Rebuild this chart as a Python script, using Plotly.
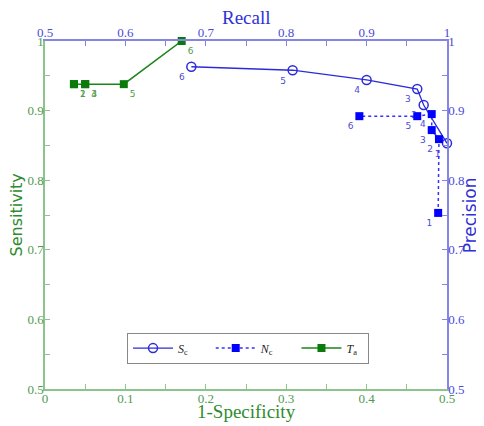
import plotly.graph_objects as go

# Sc series (Recall, Precision) - top/right axes
sc_recall = [1.0, 0.971, 0.963, 0.900, 0.808, 0.682]
sc_precision = [0.853, 0.908, 0.931, 0.944, 0.958, 0.963]
sc_labels = ["1", "2", "3", "4", "5", "6"]

# Nc series (Recall, Precision) - top/right axes
nc_recall = [0.989, 0.990, 0.981, 0.981, 0.963, 0.891]
nc_precision = [0.753, 0.859, 0.872, 0.895, 0.892, 0.892]
nc_labels = ["1", "2", "3", "4", "5", "6"]

# Ta series (1-Specificity, Sensitivity) - bottom/left axes
ta_fpr = [0.036, 0.036, 0.050, 0.050, 0.098, 0.170]
ta_sens = [0.938, 0.938, 0.938, 0.938, 0.938, 1.0]
ta_labels = ["1", "2", "3", "4", "5", "6"]

bottom_ticks = [0, 0.1, 0.2, 0.3, 0.4, 0.5]
bottom_text = ["0", "0.1", "0.2", "0.3", "0.4", "0.5"]
top_ticks = [0.5, 0.6, 0.7, 0.8, 0.9, 1.0]
top_text = ["0.5", "0.6", "0.7", "0.8", "0.9", "1"]
y_ticks = [0.5, 0.6, 0.7, 0.8, 0.9, 1.0]
y_text = ["0.5", "0.6", "0.7", "0.8", "0.9", "1"]

GREEN = "#1a851a"
GREEN_AX = "#8cc48c"
GREEN_TXT = "#4f9a4f"
BLUE = "#2b2bdc"
BLUE_AX = "#8585e6"
BLUE_TXT = "#4a4ad8"
SERIF = "Liberation Serif"
SANS = "DejaVu Sans"
SP = "&nbsp;" * 6

fig = go.Figure()

fig.add_trace(go.Scatter(
    x=sc_recall, y=sc_precision, text=sc_labels, xaxis="x2", yaxis="y2",
    mode="lines+markers+text", name="<i>S</i><sub>c</sub>" + SP,
    line=dict(color=BLUE, width=1.3),
    marker=dict(symbol="circle-open", size=9, color=BLUE, line=dict(width=1.5)),
    textposition="bottom left", textfont=dict(size=9, color=BLUE_TXT, family=SANS),
    cliponaxis=False,
))
fig.add_trace(go.Scatter(
    x=nc_recall, y=nc_precision, text=nc_labels, xaxis="x2", yaxis="y2",
    mode="lines+markers+text", name="<i>N</i><sub>c</sub>" + SP,
    line=dict(color="#3333ff", width=1.5, dash="dot"),
    marker=dict(symbol="square", size=8, color="#0000ff"),
    textposition="bottom left", textfont=dict(size=9, color=BLUE_TXT, family=SANS),
    cliponaxis=False,
))
fig.add_trace(go.Scatter(
    x=ta_fpr, y=ta_sens, text=ta_labels, xaxis="x", yaxis="y",
    mode="lines+markers+text", name="<i>T</i><sub>a</sub>" + "&nbsp;" * 2,
    line=dict(color=GREEN, width=1.5),
    marker=dict(symbol="square", size=8, color="#0a7a0a"),
    textposition="bottom right", textfont=dict(size=9, color=GREEN_TXT, family=SANS),
    cliponaxis=False,
))

common = dict(showgrid=False, zeroline=False, showline=True, linewidth=1.5,
              ticks="inside", ticklen=5, automargin=False, ticklabelstandoff=-3)

fig.update_layout(
    width=476, height=418,
    margin=dict(l=37, r=37, t=33, b=37, autoexpand=False),
    paper_bgcolor="white", plot_bgcolor="white",
    showlegend=True,
    legend=dict(
        orientation="h", x=0.505, xanchor="center", y=0.162, yanchor="top",
        bordercolor="#888888", borderwidth=1, bgcolor="white",
        font=dict(family=SERIF, size=12, color="#222222"),
        itemwidth=40, tracegroupgap=0,
    ),
    xaxis=dict(
        range=[0, 0.5], linecolor=GREEN_AX, tickcolor=GREEN_AX,
        tickvals=bottom_ticks, ticktext=bottom_text,
        tickfont=dict(family=SERIF, size=13, color=GREEN_TXT),
        minor=dict(dtick=0.05, ticks="inside", ticklen=5, tickcolor=GREEN_AX),
        **common,
    ),
    yaxis=dict(
        range=[0.5, 1], linecolor=GREEN_AX, tickcolor=GREEN_AX,
        tickvals=y_ticks, ticktext=y_text,
        tickfont=dict(family=SERIF, size=13, color=GREEN_TXT),
        minor=dict(dtick=0.05, ticks="inside", ticklen=5, tickcolor=GREEN_AX),
        **common,
    ),
    xaxis2=dict(
        range=[0.5, 1], overlaying="x", side="top", anchor="y",
        linecolor=BLUE_AX, tickcolor=BLUE_AX,
        tickvals=top_ticks, ticktext=top_text,
        tickfont=dict(family=SERIF, size=13, color=BLUE_TXT),
        minor=dict(dtick=0.05, ticks="inside", ticklen=5, tickcolor=BLUE_AX),
        **common,
    ),
    yaxis2=dict(
        range=[0.5, 1], overlaying="y", side="right", anchor="x",
        linecolor=BLUE_AX, tickcolor=BLUE_AX,
        tickvals=y_ticks, ticktext=y_text,
        tickfont=dict(family=SERIF, size=13, color=BLUE_TXT),
        minor=dict(dtick=0.05, ticks="inside", ticklen=5, tickcolor=BLUE_AX),
        **common,
    ),
    annotations=[
        dict(text="Recall", x=0.5, y=1.068, xref="paper", yref="paper", showarrow=False,
             xanchor="center", yanchor="middle",
             font=dict(family=SERIF, size=19, color="#3030d8")),
        dict(text="1-Specificity", x=0.5, y=-0.064, xref="paper", yref="paper", showarrow=False,
             xanchor="center", yanchor="middle",
             font=dict(family=SERIF, size=19, color="#2e8b2e")),
        dict(text="Sensitivity", x=-0.071, y=0.5, xref="paper", yref="paper", showarrow=False,
             xanchor="center", yanchor="middle",
             textangle=-90, font=dict(family=SANS, size=16, color="#2e8b2e")),
        dict(text="Precision", x=1.058, y=0.5, xref="paper", yref="paper", showarrow=False,
             xanchor="center", yanchor="middle",
             textangle=-90, font=dict(family=SANS, size=17, color="#3030d8")),
    ],
)

fig.write_html("out.html")
